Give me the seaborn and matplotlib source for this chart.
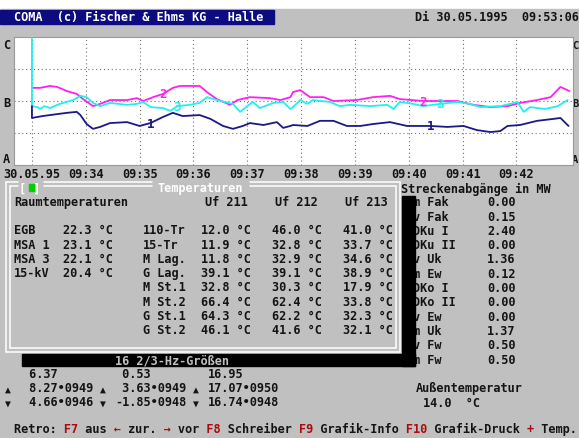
import matplotlib
matplotlib.use("Agg")
import matplotlib.pyplot as plt
import seaborn as sns
import pandas as pd
from matplotlib.patches import Rectangle

# recorder traces: time in s after 09:33:00, level on the A..C scale (A=0, B=2, C=4)
pink_t = [0, 9, 20, 28, 39, 50, 57, 68, 76, 87, 106, 117, 124, 135, 146, 157, 165, 187, 195, 206,
          221, 229, 243, 265, 277, 288, 291, 299, 310, 325, 336, 362, 380, 399, 410, 436, 474, 492, 511, 530,
          544, 563, 578, 589, 599]
pink_v = [2.41, 2.41, 2.47, 2.44, 2.31, 2.22, 2.06, 1.84, 1.91, 2.03, 2.03, 2.09, 2.0, 2.12, 2.22, 2.41, 2.47, 2.47, 2.28, 2.06,
          1.88, 2.03, 2.12, 2.09, 2.03, 2.12, 2.28, 2.34, 2.12, 2.12, 2.0, 2.03, 2.12, 2.16, 2.06, 2.0, 2.0, 1.88, 1.81, 1.84,
          1.94, 2.03, 2.12, 2.44, 2.31]

cyan_t = [0, 0, 6, 9, 14, 20, 31, 46, 54, 61, 68, 76, 87, 106, 117, 124, 132, 146, 154, 162,
          176, 187, 195, 210, 224, 232, 240, 246, 254, 269, 280, 288, 291, 299, 307, 313, 332, 343, 355, 377,
          396, 403, 410, 425, 436, 455, 474, 488, 500, 522, 533, 541, 548, 555, 572, 586, 597]
cyan_v = [4.0, 1.84, 1.81, 1.75, 1.84, 1.78, 1.91, 2.03, 2.16, 2.12, 1.94, 1.84, 1.94, 1.88, 1.91, 1.97, 1.81, 1.78, 1.69, 1.84,
          1.88, 1.94, 2.12, 2.0, 1.91, 1.66, 1.84, 1.97, 1.78, 1.94, 1.97, 1.75, 1.81, 2.03, 1.91, 2.03, 1.97, 1.84, 1.88, 1.84,
          1.88, 1.75, 1.97, 1.91, 1.84, 1.91, 1.97, 1.91, 1.81, 1.84, 1.91, 1.97, 1.66, 1.81, 1.75, 1.84, 2.03]

navy_t = [0, 0, 12, 28, 39, 50, 54, 61, 68, 76, 87, 106, 120, 132, 146, 157, 168, 187, 199, 213,
          224, 235, 243, 258, 273, 280, 288, 291, 307, 321, 336, 351, 366, 380, 399, 418, 444, 463, 481, 496,
          511, 522, 530, 544, 563, 581, 589, 598]
navy_v = [1.84, 1.47, 1.53, 1.59, 1.63, 1.66, 1.56, 1.28, 1.13, 1.19, 1.31, 1.34, 1.22, 1.31, 1.5, 1.63, 1.53, 1.56, 1.44, 1.22,
          1.13, 1.22, 1.31, 1.25, 1.34, 1.16, 1.22, 1.25, 1.22, 1.38, 1.38, 1.22, 1.22, 1.28, 1.34, 1.22, 1.22, 1.19, 1.22, 1.09,
          1.03, 1.06, 1.22, 1.25, 1.38, 1.44, 1.47, 1.22]

tick_t = [0, 60, 120, 180, 240, 300, 360, 420, 480, 540]
tick_labels = ["30.05.95", "09:34", "09:35", "09:36", "09:37", "09:38", "09:39", "09:40", "09:41", "09:42"]

room_names = ["EGB", "MSA 1", "MSA 3", "15-kV"]
room_temps = [22.3, 23.1, 22.1, 20.4]

sites = ["110-Tr", "15-Tr", "M Lag.", "G Lag.", "M St.1", "M St.2", "G St.1", "G St.2"]
uf211 = [12.0, 11.9, 11.8, 39.1, 32.8, 66.4, 64.3, 46.1]
uf212 = [46.0, 32.8, 32.9, 39.1, 30.3, 62.4, 62.2, 41.6]
uf213 = [41.0, 33.7, 34.6, 38.9, 17.9, 33.8, 32.3, 32.1]
uf_headers = ["Uf 211", "Uf 212", "Uf 213"]

feeders = ["m Fak", "v Fak", "DKu I", "DKu II", "v Uk", "m Ew", "DKo I", "DKo II", "v Ew", "m Uk", "v Fw", "m Fw"]
feeder_mw = [0.00, 0.15, 2.40, 0.00, 1.36, 0.12, 0.00, 0.00, 0.00, 1.37, 0.50, 0.50]

hz_now = [6.37, 0.53, 16.95]
hz_max = [8.27, 3.63, 17.07]
hz_max_at = ["0949", "0949", "0950"]
hz_min = [4.66, -1.85, 16.74]
hz_min_at = ["0946", "0948", "0948"]
outside_temp = 14.0

GRAY = "#c0c0c0"
INK = "#141414"
RED = "#a80c0c"
PINK = "#ff20f0"
CYAN = "#20f0f0"
NAVY = "#1a1a86"
MONO = "DejaVu Sans Mono"
FS = 8.54

sns.set_theme(style="white")
plt.rcParams["font.family"] = [MONO, "DejaVu Sans"]

fig = plt.figure(figsize=(5.79, 4.39), dpi=100, facecolor="white")

# whole screen in pixel units
scr = fig.add_axes([0, 0, 1, 1])
scr.set_xlim(0, 579)
scr.set_ylim(439, 0)
scr.axis("off")


def put(x, y, s, color=INK, size=FS, z=2, ha="left"):
    scr.text(x, y + 4.3, s, color=color, fontsize=size, family=MONO, weight="bold",
             va="baseline", ha=ha, zorder=z)


scr.add_patch(Rectangle((0, 10), 579, 429, color=GRAY, zorder=0))
scr.add_patch(Rectangle((0, 11), 274, 14, color="#0c0c80", zorder=1))
put(14, 17, "COMA  (c) Fischer & Ehms KG - Halle", color="white")
put(415, 17, "Di 30.05.1995  09:53:06")

# level letters beside the recorder
for lab, yy in zip(["C", "B", "A"], [45, 103, 159]):
    put(3, yy, lab)
    put(578.5, yy, lab, size=7.6, ha="right")

# recorder chart
ax = fig.add_axes([14 / 579, 1 - 166 / 439, 559 / 579, 128 / 439])
ax.set_facecolor("white")
traces = [(pink_t, pink_v, PINK), (cyan_t, cyan_v, CYAN), (navy_t, navy_v, NAVY)]
for tt, vv, col in traces:
    df = pd.DataFrame({"t": tt, "v": vv})
    sns.lineplot(data=df, x="t", y="v", ax=ax, color=col, lw=1.3,
                 estimator=None, sort=False, zorder=3)
ax.set_xlim(-20, 603)
ax.set_ylim(0, 4)
ax.set_xticks(tick_t)
ax.set_xticklabels(tick_labels, family=MONO, weight="bold", fontsize=FS, color=INK)
ax.set_yticks([1, 2, 3])
ax.set_yticklabels([])
ax.tick_params(length=0, pad=1.5)
ax.grid(True, color="#707070", lw=0.8, ls=(0, (1, 2.5)))
ax.set_xlabel("")
ax.set_ylabel("")
for sp in ax.spines.values():
    sp.set_color("#9a9a9a")
    sp.set_linewidth(0.8)

# trace numbers written onto the lines
for tt, vv, col, num, idx in [(pink_t, pink_v, PINK, "2", [14, 35]),
                              (cyan_t, cyan_v, CYAN, "3", [19, 45]),
                              (navy_t, navy_v, NAVY, "1", [13, 36])]:
    for i in idx:
        ax.text(tt[i], vv[i], num, color=col, fontsize=9, family=MONO, weight="bold",
                ha="center", va="center", zorder=4)

# temperature window: shadow, frame, title
scr.add_patch(Rectangle((402, 197), 13, 170, color="black", zorder=3))
scr.add_patch(Rectangle((22, 355), 393, 12, color="black", zorder=3))
put(115, 360, "16 2/3-Hz-Größen", color=GRAY, z=4)

for x0, y0, x1, y1 in [(6, 183, 400, 353), (10, 187, 396, 349)]:
    kw = dict(color="white", lw=1.1, zorder=2)
    scr.plot([x0, x0], [y0, y1], **kw)
    scr.plot([x1, x1], [y0, y1], **kw)
    scr.plot([x0, x1], [y1, y1], **kw)
    for a, b in [(x0, 18), (44, 152), (250, x1)]:
        scr.plot([a, b], [y0, y0], **kw)
put(19, 188, "[ ]", color="white")
scr.add_patch(Rectangle((29, 185), 5, 7, color="#00d000", zorder=3))
put(158, 188, "Temperaturen", color="white")

put(14, 202, "Raumtemperaturen")
for s, x in zip(uf_headers, [205, 275, 345]):
    put(x, 202, s)

for i, (n, v) in enumerate(zip(room_names, room_temps)):
    y = 230 + i * 14.3
    put(14, y, n)
    put(63, y, f"{v:.1f} °C")

for i, s in enumerate(sites):
    y = 230 + i * 14.3
    put(143, y, s)
    for vals, x in [(uf211, 201), (uf212, 272), (uf213, 343)]:
        put(x, y, f"{vals[i]:.1f} °C")

# feeder power list
put(401, 189, "Streckenabgänge in MW")
for i, (n, p) in enumerate(zip(feeders, feeder_mw)):
    y = 202 + i * 14.3
    put(413, y, n)
    put(487, y, f"{p:.2f}")

# 16 2/3 Hz quantities
cols_x = [22, 115, 208]
arrow_x = [5, 100, 193]
for k in range(3):
    put(cols_x[k], 374, f"{hz_now[k]:5.2f}")
    put(arrow_x[k], 388, "▲", size=7)
    put(cols_x[k], 388, f"{hz_max[k]:5.2f}•{hz_max_at[k]}")
    put(arrow_x[k], 402, "▼", size=7)
    put(cols_x[k], 402, f"{hz_min[k]:5.2f}•{hz_min_at[k]}")

put(416, 388, "Außentemperatur")
put(423, 403, f"{outside_temp:.1f}  °C")

# key line: red keys overlaid on the same monospace grid
footer = "Retro: F7 aus ← zur. → vor F8 Schreiber F9 Grafik-Info F10 Grafik-Druck + Temp."
mask = "       RR     R      R     RR           RR             RRR              R      "
dark = "".join(" " if m == "R" else c for c, m in zip(footer, mask))
red = "".join(c if m == "R" else " " for c, m in zip(footer, mask))
put(14, 429, dark)
put(14, 429, red, color=RED)

fig.savefig("out.png", dpi=100, facecolor="white")
